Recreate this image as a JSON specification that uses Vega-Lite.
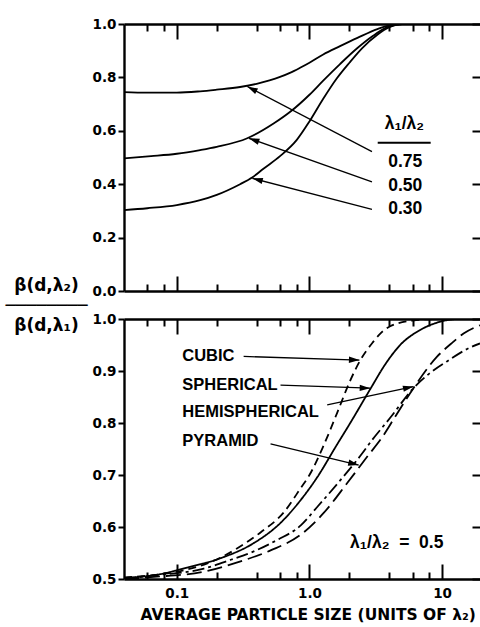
{
  "$schema": "https://vega.github.io/schema/vega-lite/v6.json",
  "padding": {"left": 5, "top": 17, "right": 0, "bottom": 0},
  "bounds": "flush",
  "spacing": 28,
  "background": "white",
  "config": {
    "view": {"stroke": null},
    "axis": {"grid": false, "domainColor": "black", "domainWidth": 2.4, "tickColor": "black", "tickWidth": 2, "labelColor": "black", "labelFont": "DejaVu Sans", "labelFontWeight": "bold", "labelFontSize": 13.5, "titleColor": "black"}
  },
  "datasets": {
    "topCurves": [
      {"r": "0.75", "x": 0.04, "y": 0.745}, {"r": "0.75", "x": 0.06, "y": 0.743}, {"r": "0.75", "x": 0.1, "y": 0.743}, {"r": "0.75", "x": 0.15, "y": 0.748}, {"r": "0.75", "x": 0.2, "y": 0.754}, {"r": "0.75", "x": 0.3, "y": 0.764}, {"r": "0.75", "x": 0.4, "y": 0.776}, {"r": "0.75", "x": 0.5, "y": 0.789}, {"r": "0.75", "x": 0.6, "y": 0.802}, {"r": "0.75", "x": 0.72, "y": 0.818}, {"r": "0.75", "x": 0.85, "y": 0.836}, {"r": "0.75", "x": 1.0, "y": 0.855}, {"r": "0.75", "x": 1.27, "y": 0.886}, {"r": "0.75", "x": 1.7, "y": 0.917}, {"r": "0.75", "x": 2.3, "y": 0.948}, {"r": "0.75", "x": 3.25, "y": 0.981}, {"r": "0.75", "x": 4.0, "y": 0.995}, {"r": "0.75", "x": 5.0, "y": 1.0}, {"r": "0.75", "x": 19.3, "y": 1.0},
      {"r": "0.50", "x": 0.04, "y": 0.497}, {"r": "0.50", "x": 0.064, "y": 0.505}, {"r": "0.50", "x": 0.1, "y": 0.514}, {"r": "0.50", "x": 0.15, "y": 0.528}, {"r": "0.50", "x": 0.2, "y": 0.54}, {"r": "0.50", "x": 0.34, "y": 0.572}, {"r": "0.50", "x": 0.54, "y": 0.628}, {"r": "0.50", "x": 0.72, "y": 0.672}, {"r": "0.50", "x": 1.0, "y": 0.735}, {"r": "0.50", "x": 1.27, "y": 0.788}, {"r": "0.50", "x": 1.7, "y": 0.85}, {"r": "0.50", "x": 2.3, "y": 0.91}, {"r": "0.50", "x": 3.0, "y": 0.955}, {"r": "0.50", "x": 3.86, "y": 0.988}, {"r": "0.50", "x": 5.0, "y": 1.0}, {"r": "0.50", "x": 19.3, "y": 1.0},
      {"r": "0.30", "x": 0.04, "y": 0.303}, {"r": "0.30", "x": 0.06, "y": 0.31}, {"r": "0.30", "x": 0.1, "y": 0.322}, {"r": "0.30", "x": 0.15, "y": 0.34}, {"r": "0.30", "x": 0.2, "y": 0.36}, {"r": "0.30", "x": 0.3, "y": 0.4}, {"r": "0.30", "x": 0.37, "y": 0.425}, {"r": "0.30", "x": 0.45, "y": 0.458}, {"r": "0.30", "x": 0.6, "y": 0.505}, {"r": "0.30", "x": 0.8, "y": 0.565}, {"r": "0.30", "x": 1.0, "y": 0.635}, {"r": "0.30", "x": 1.27, "y": 0.72}, {"r": "0.30", "x": 1.6, "y": 0.795}, {"r": "0.30", "x": 2.0, "y": 0.855}, {"r": "0.30", "x": 2.5, "y": 0.91}, {"r": "0.30", "x": 3.25, "y": 0.96}, {"r": "0.30", "x": 4.0, "y": 0.988}, {"r": "0.30", "x": 5.0, "y": 1.0}, {"r": "0.30", "x": 19.3, "y": 1.0}
    ],
    "topArrows": [
      {"x": 2.96, "y": 0.522, "xt": 0.34, "yt": 0.766},
      {"x": 2.96, "y": 0.409, "xt": 0.35, "yt": 0.572},
      {"x": 2.96, "y": 0.306, "xt": 0.371, "yt": 0.422}
    ],
    "topText": [
      {"t": "λ₁/λ₂", "x": 5.2, "y": 0.625},
      {"t": "0.75", "x": 5.27, "y": 0.484},
      {"t": "0.50", "x": 5.27, "y": 0.394},
      {"t": "0.30", "x": 5.27, "y": 0.306}
    ],
    "topLine": [{"x": 3.27, "x2": 8.2, "y": 0.555}],
    "botCurves": [
      {"s": "CUBIC", "x": 0.04, "y": 0.503}, {"s": "CUBIC", "x": 0.07, "y": 0.508}, {"s": "CUBIC", "x": 0.1, "y": 0.514}, {"s": "CUBIC", "x": 0.17, "y": 0.53}, {"s": "CUBIC", "x": 0.29, "y": 0.56}, {"s": "CUBIC", "x": 0.43, "y": 0.59}, {"s": "CUBIC", "x": 0.64, "y": 0.628}, {"s": "CUBIC", "x": 0.86, "y": 0.675}, {"s": "CUBIC", "x": 1.0, "y": 0.7}, {"s": "CUBIC", "x": 1.27, "y": 0.755}, {"s": "CUBIC", "x": 1.62, "y": 0.82}, {"s": "CUBIC", "x": 2.0, "y": 0.878}, {"s": "CUBIC", "x": 2.42, "y": 0.921}, {"s": "CUBIC", "x": 3.0, "y": 0.955}, {"s": "CUBIC", "x": 3.42, "y": 0.972}, {"s": "CUBIC", "x": 4.06, "y": 0.986}, {"s": "CUBIC", "x": 6.0, "y": 0.997}, {"s": "CUBIC", "x": 9.0, "y": 1.0}, {"s": "CUBIC", "x": 19.3, "y": 1.0},
      {"s": "SPHERICAL", "x": 0.04, "y": 0.502}, {"s": "SPHERICAL", "x": 0.07, "y": 0.508}, {"s": "SPHERICAL", "x": 0.12, "y": 0.522}, {"s": "SPHERICAL", "x": 0.214, "y": 0.54}, {"s": "SPHERICAL", "x": 0.38, "y": 0.569}, {"s": "SPHERICAL", "x": 0.6, "y": 0.607}, {"s": "SPHERICAL", "x": 0.86, "y": 0.652}, {"s": "SPHERICAL", "x": 1.14, "y": 0.695}, {"s": "SPHERICAL", "x": 1.6, "y": 0.757}, {"s": "SPHERICAL", "x": 2.03, "y": 0.8}, {"s": "SPHERICAL", "x": 2.87, "y": 0.865}, {"s": "SPHERICAL", "x": 3.73, "y": 0.913}, {"s": "SPHERICAL", "x": 4.83, "y": 0.95}, {"s": "SPHERICAL", "x": 6.84, "y": 0.979}, {"s": "SPHERICAL", "x": 9.16, "y": 0.993}, {"s": "SPHERICAL", "x": 13.6, "y": 1.0}, {"s": "SPHERICAL", "x": 19.3, "y": 1.0},
      {"s": "PYRAMID", "x": 0.04, "y": 0.501}, {"s": "PYRAMID", "x": 0.0675, "y": 0.507}, {"s": "PYRAMID", "x": 0.16, "y": 0.52}, {"s": "PYRAMID", "x": 0.255, "y": 0.537}, {"s": "PYRAMID", "x": 0.38, "y": 0.553}, {"s": "PYRAMID", "x": 0.57, "y": 0.575}, {"s": "PYRAMID", "x": 0.86, "y": 0.603}, {"s": "PYRAMID", "x": 1.14, "y": 0.638}, {"s": "PYRAMID", "x": 1.71, "y": 0.69}, {"s": "PYRAMID", "x": 2.42, "y": 0.737}, {"s": "PYRAMID", "x": 2.96, "y": 0.767}, {"s": "PYRAMID", "x": 4.06, "y": 0.81}, {"s": "PYRAMID", "x": 6.08, "y": 0.867}, {"s": "PYRAMID", "x": 8.0, "y": 0.895}, {"s": "PYRAMID", "x": 10.8, "y": 0.918}, {"s": "PYRAMID", "x": 16.2, "y": 0.945}, {"s": "PYRAMID", "x": 19.3, "y": 0.953},
      {"s": "HEMISPHERICAL", "x": 0.04, "y": 0.5}, {"s": "HEMISPHERICAL", "x": 0.067, "y": 0.504}, {"s": "HEMISPHERICAL", "x": 0.16, "y": 0.514}, {"s": "HEMISPHERICAL", "x": 0.286, "y": 0.532}, {"s": "HEMISPHERICAL", "x": 0.509, "y": 0.555}, {"s": "HEMISPHERICAL", "x": 0.857, "y": 0.585}, {"s": "HEMISPHERICAL", "x": 1.28, "y": 0.627}, {"s": "HEMISPHERICAL", "x": 1.92, "y": 0.684}, {"s": "HEMISPHERICAL", "x": 2.72, "y": 0.735}, {"s": "HEMISPHERICAL", "x": 3.52, "y": 0.772}, {"s": "HEMISPHERICAL", "x": 4.5, "y": 0.815}, {"s": "HEMISPHERICAL", "x": 6.08, "y": 0.867}, {"s": "HEMISPHERICAL", "x": 9.12, "y": 0.927}, {"s": "HEMISPHERICAL", "x": 12.0, "y": 0.955}, {"s": "HEMISPHERICAL", "x": 14.5, "y": 0.972}, {"s": "HEMISPHERICAL", "x": 19.3, "y": 0.988}
    ],
    "botArrows": [
      {"x": 0.319, "y": 0.928, "xt": 2.38, "yt": 0.921},
      {"x": 0.605, "y": 0.873, "xt": 2.87, "yt": 0.867},
      {"x": 1.36, "y": 0.835, "xt": 6.08, "yt": 0.87},
      {"x": 0.509, "y": 0.76, "xt": 2.35, "yt": 0.719}
    ],
    "botText": [
      {"t": "CUBIC", "x": 0.11, "y": 0.929},
      {"t": "SPHERICAL", "x": 0.11, "y": 0.873},
      {"t": "HEMISPHERICAL", "x": 0.11, "y": 0.821},
      {"t": "PYRAMID", "x": 0.11, "y": 0.765}
    ],
    "botRatio": [{"t": "λ₁/λ₂ \u00a0=\u00a0 0.5", "x": 4.55, "y": 0.57}]
  },
  "vconcat": [
    {
      "width": 356,
      "height": 267,
      "resolve": {"axis": {"x": "independent", "y": "independent"}},
      "layer": [
        {
          "data": {"name": "topCurves"},
          "mark": {"type": "line", "stroke": "black", "strokeWidth": 1.8, "clip": true, "interpolate": "monotone"},
          "encoding": {
            "x": {"field": "x", "type": "quantitative", "scale": {"type": "log", "domain": [0.04, 19.3], "nice": false},
                  "axis": {"orient": "bottom", "values": [0.1, 1, 10], "tickSize": -15, "labels": false, "domain": true, "title": null}},
            "y": {"field": "y", "type": "quantitative", "scale": {"domain": [0, 1], "nice": false},
                  "axis": {"orient": "left", "values": [0, 0.2, 0.4, 0.6, 0.8, 1], "format": ".1f", "tickSize": 6, "labelPadding": 2,
                           "title": ["β(d,λ₂)", "────────", "β(d,λ₁)"], "titleAngle": 0, "titleX": -78, "titleY": 261,
                           "titleAlign": "center", "titleBaseline": "middle", "titleFont": "DejaVu Sans", "titleFontWeight": "bold",
                           "titleFontSize": 17, "titleLineHeight": 20}},
            "detail": {"field": "r", "type": "nominal"}
          }
        },
        {
          "data": {"name": "topArrows"},
          "mark": {"type": "rule", "stroke": "black", "strokeWidth": 1.3},
          "encoding": {
            "x": {"field": "x", "type": "quantitative", "axis": {"orient": "bottom", "values": [0.06, 0.08, 0.2, 0.4, 0.6, 0.8, 2, 4, 6, 8], "tickSize": -7, "labels": false, "domain": false, "title": null}},
            "x2": {"field": "xt"},
            "y": {"field": "y", "type": "quantitative", "axis": {"orient": "right", "values": [0, 0.2, 0.4, 0.6, 0.8, 1], "tickSize": -8, "labels": false, "domain": false, "title": null}},
            "y2": {"field": "yt"}
          }
        },
        {
          "data": {"name": "topArrows"},
          "transform": [{"calculate": "atan2(132.7*(log(datum.xt)-log(datum.x))/LN10, 267*(datum.yt-datum.y))*180/PI", "as": "ang"}],
          "mark": {"type": "point", "filled": true, "fill": "black", "strokeWidth": 0, "opacity": 1, "shape": "M0,0L0.6,2L-0.6,2Z", "size": 110},
          "encoding": {
            "x": {"field": "xt", "type": "quantitative", "axis": {"orient": "top", "values": [0.1, 1, 10], "tickSize": -15, "labels": false, "domain": true, "title": null}},
            "y": {"field": "yt", "type": "quantitative", "axis": null},
            "angle": {"field": "ang", "type": "quantitative", "scale": null}
          }
        },
        {
          "data": {"name": "topText"},
          "mark": {"type": "text", "font": "Liberation Sans", "fontWeight": "bold", "fontSize": 17.5, "align": "center", "baseline": "middle", "color": "black"},
          "encoding": {
            "x": {"field": "x", "type": "quantitative", "axis": {"orient": "top", "values": [0.06, 0.08, 0.2, 0.4, 0.6, 0.8, 2, 4, 6, 8], "tickSize": -7, "labels": false, "domain": false, "title": null}},
            "y": {"field": "y", "type": "quantitative", "axis": null},
            "text": {"field": "t"}
          }
        },
        {
          "data": {"name": "topLine"},
          "mark": {"type": "rule", "stroke": "black", "strokeWidth": 2},
          "encoding": {
            "x": {"field": "x", "type": "quantitative", "axis": null},
            "x2": {"field": "x2"},
            "y": {"field": "y", "type": "quantitative", "axis": null}
          }
        }
      ]
    },
    {
      "width": 356,
      "height": 260,
      "resolve": {"axis": {"x": "independent", "y": "independent"}},
      "layer": [
        {
          "data": {"name": "botCurves"},
          "mark": {"type": "line", "stroke": "black", "strokeWidth": 1.8, "clip": true, "interpolate": "monotone"},
          "encoding": {
            "x": {"field": "x", "type": "quantitative", "scale": {"type": "log", "domain": [0.04, 19.3], "nice": false},
                  "axis": {"orient": "bottom", "values": [0.1, 1, 10], "ticks": false, "labelPadding": 7, "domain": true,
                           "labelExpr": "datum.value == 1 ? '1.0' : datum.value == 10 ? '10' : '0.1'",
                           "title": "AVERAGE PARTICLE SIZE (UNITS OF λ₂)", "titleFont": "DejaVu Sans", "titleFontWeight": "bold",
                           "titleFontSize": 15.5, "titleX": 16, "titleAlign": "left", "titlePadding": 8}},
            "y": {"field": "y", "type": "quantitative", "scale": {"domain": [0.5, 1], "nice": false, "zero": false},
                  "axis": {"orient": "left", "values": [0.5, 0.6, 0.7, 0.8, 0.9, 1], "format": ".1f", "tickSize": 6, "labelPadding": 2, "title": null}},
            "strokeDash": {"field": "s", "type": "nominal", "legend": null,
                           "scale": {"domain": ["CUBIC", "SPHERICAL", "HEMISPHERICAL", "PYRAMID"], "range": [[8, 5], [1, 0], [15, 6], [12, 4, 3, 4]]}}
          }
        },
        {
          "data": {"name": "botArrows"},
          "mark": {"type": "rule", "stroke": "black", "strokeWidth": 1.3},
          "encoding": {
            "x": {"field": "x", "type": "quantitative", "axis": {"orient": "bottom", "values": [0.1, 1, 10], "tickSize": -15, "labels": false, "domain": false, "title": null}},
            "x2": {"field": "xt"},
            "y": {"field": "y", "type": "quantitative", "axis": {"orient": "right", "values": [0.5, 0.6, 0.7, 0.8, 0.9, 1], "tickSize": -8, "labels": false, "domain": false, "title": null}},
            "y2": {"field": "yt"}
          }
        },
        {
          "data": {"name": "botArrows"},
          "transform": [{"calculate": "atan2(132.7*(log(datum.xt)-log(datum.x))/LN10, 519.4*(datum.yt-datum.y))*180/PI", "as": "ang"}],
          "mark": {"type": "point", "filled": true, "fill": "black", "strokeWidth": 0, "opacity": 1, "shape": "M0,0L0.6,2L-0.6,2Z", "size": 110},
          "encoding": {
            "x": {"field": "xt", "type": "quantitative", "axis": {"orient": "bottom", "values": [0.06, 0.08, 0.2, 0.4, 0.6, 0.8, 2, 4, 6, 8], "tickSize": -7, "labels": false, "domain": false, "title": null}},
            "y": {"field": "yt", "type": "quantitative", "axis": null},
            "angle": {"field": "ang", "type": "quantitative", "scale": null}
          }
        },
        {
          "data": {"name": "botText"},
          "mark": {"type": "text", "font": "Liberation Sans", "fontWeight": "bold", "fontSize": 16.5, "align": "left", "baseline": "middle", "color": "black"},
          "encoding": {
            "x": {"field": "x", "type": "quantitative", "axis": {"orient": "top", "values": [0.1, 1, 10], "tickSize": -15, "labels": false, "domain": true, "title": null}},
            "y": {"field": "y", "type": "quantitative", "axis": null},
            "text": {"field": "t"}
          }
        },
        {
          "data": {"name": "botRatio"},
          "mark": {"type": "text", "font": "Liberation Sans", "fontWeight": "bold", "fontSize": 17.5, "align": "center", "baseline": "middle", "color": "black"},
          "encoding": {
            "x": {"field": "x", "type": "quantitative", "axis": {"orient": "top", "values": [0.06, 0.08, 0.2, 0.4, 0.6, 0.8, 2, 4, 6, 8], "tickSize": -7, "labels": false, "domain": false, "title": null}},
            "y": {"field": "y", "type": "quantitative", "axis": null},
            "text": {"field": "t"}
          }
        }
      ]
    }
  ]
}
